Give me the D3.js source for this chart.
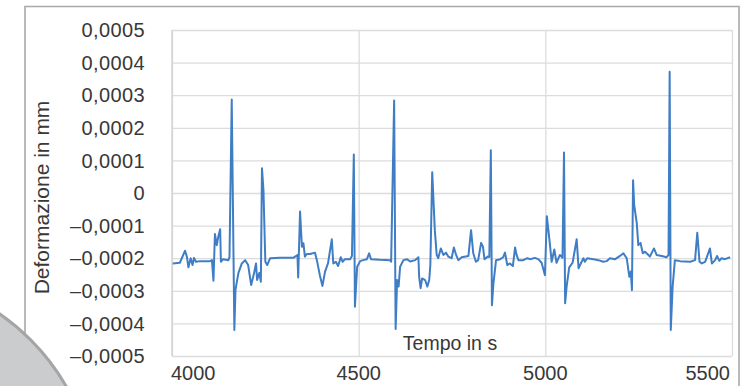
<!DOCTYPE html>
<html><head><meta charset="utf-8">
<script src="https://cdn.jsdelivr.net/npm/d3@7"></script>
<style>
html,body{margin:0;padding:0;background:#fff;}
svg{display:block;}
text{font-family:"Liberation Sans",Arial,sans-serif;fill:#383838;}
</style></head>
<body>
<svg id="c" width="752" height="386"></svg>
<script>
// ---- data ----
const time = [4002,4021,4035,4040,4044,4050,4055,4059,4064,4075,4102,4107,4111,4115,4120,4124,4129,4131,4137,4151,4154,4160,4167,4170,4173,4178,4187,4196,4204,4212,4220,4225,4228,4234,4238,4241,4245,4250,4255,4263,4289,4325,4336,4338,4343,4348,4352,4356,4361,4370,4383,4388,4396,4403,4410,4418,4428,4432,4439,4445,4452,4457,4463,4477,4482,4487,4490,4496,4504,4512,4522,4528,4533,4557,4584,4587,4595,4599,4603,4607,4611,4620,4629,4638,4651,4660,4662,4666,4670,4678,4684,4689,4692,4697,4704,4709,4713,4720,4727,4734,4740,4749,4755,4761,4767,4776,4794,4801,4807,4814,4820,4828,4833,4837,4841,4845,4850,4854,4857,4861,4868,4879,4887,4892,4898,4905,4913,4919,4923,4928,4941,4952,4959,4972,4981,4990,4999,5004,5011,5017,5024,5030,5039,5046,5050,5053,5057,5064,5073,5084,5089,5096,5102,5106,5112,5129,5142,5155,5164,5173,5187,5200,5209,5218,5225,5229,5232,5235,5238,5245,5249,5255,5261,5267,5276,5280,5291,5298,5312,5325,5330,5333,5336,5341,5347,5361,5388,5401,5407,5413,5419,5428,5441,5446,5455,5460,5466,5472,5481,5495];
const deformation = [-0.000216,-0.000214,-0.000177,-0.000196,-0.000228,-0.000200,-0.000221,-0.000199,-0.000211,-0.000209,-0.000209,-0.000206,-0.000269,-0.000126,-0.000160,-0.000134,-0.000111,-0.000211,-0.000203,-0.000206,-0.000196,0.000287,-0.000420,-0.000298,-0.000277,-0.000245,-0.000216,-0.000206,-0.000221,-0.000282,-0.000245,-0.000216,-0.000267,-0.000245,-0.000272,0.000076,0.000009,-0.000211,-0.000221,-0.000200,-0.000199,-0.000199,-0.000190,-0.000259,-0.000057,-0.000165,-0.000154,-0.000195,-0.000187,-0.000187,-0.000183,-0.000206,-0.000252,-0.000285,-0.000241,-0.000215,-0.000142,-0.000216,-0.000211,-0.000224,-0.000197,-0.000211,-0.000203,-0.000203,-0.000193,0.000118,-0.000349,-0.000226,-0.000209,-0.000206,-0.000203,-0.000185,-0.000203,-0.000205,-0.000206,-0.000211,0.000284,-0.000417,-0.000267,-0.000287,-0.000226,-0.000206,-0.000203,-0.000210,-0.000206,-0.000197,-0.000257,-0.000292,-0.000262,-0.000267,-0.000287,-0.000267,-0.000221,0.000064,-0.000114,-0.000190,-0.000200,-0.000170,-0.000190,-0.000183,-0.000195,-0.000200,-0.000167,-0.000190,-0.000206,-0.000197,-0.000193,-0.000114,-0.000185,-0.000211,-0.000206,-0.000153,-0.000165,-0.000203,-0.000200,-0.000195,-0.000196,0.000131,-0.000344,-0.000277,-0.000206,-0.000203,-0.000197,-0.000183,-0.000221,-0.000216,-0.000224,-0.000167,-0.000190,-0.000206,-0.000206,-0.000200,-0.000203,-0.000199,-0.000203,-0.000214,-0.000252,-0.000071,-0.000144,-0.000211,-0.000173,-0.000214,-0.000190,-0.000199,0.000124,-0.000338,-0.000287,-0.000228,-0.000214,-0.000142,-0.000231,-0.000214,-0.000200,-0.000211,-0.000200,-0.000203,-0.000206,-0.000211,-0.000209,-0.000200,-0.000203,-0.000193,-0.000185,-0.000200,-0.000257,-0.000241,-0.000298,0.000039,-0.000037,-0.000093,-0.000160,-0.000153,-0.000185,-0.000180,-0.000190,-0.000195,-0.000170,-0.000190,-0.000193,-0.000197,-0.000190,0.000372,-0.000420,-0.000287,-0.000206,-0.000209,-0.000211,-0.000206,-0.000122,-0.000211,-0.000216,-0.000211,-0.000170,-0.000216,-0.000206,-0.000193,-0.000208,-0.000200,-0.000203,-0.000197];
const xTicks = [4000, 4500, 5000, 5500];
const yTicks = [-0.0005,-0.0004,-0.0003,-0.0002,-0.0001,0,0.0001,0.0002,0.0003,0.0004,0.0005];
const xTitle = "Tempo in s";
const yTitle = "Deformazione in mm";

// ---- drawing ----
const svg = d3.select("#c");
const L = 172, R = 732, T = 30, B = 356;
const x = d3.scaleLinear().domain([4000, 5500]).range([L, R]);
const y = d3.scaleLinear().domain([-0.0005, 0.0005]).range([B, T]);

// outer frame
svg.append("path").attr("d", `M25,386 V6.5 H739 V386`)
  .attr("fill", "none").attr("stroke", "#a9a9a9").attr("stroke-width", 1.6);

// grid
const gy = svg.append("g").attr("transform", `translate(${L},0)`)
  .call(d3.axisLeft(y).tickValues(yTicks).tickSize(-(R - L)).tickFormat(""));
gy.selectAll("line").attr("stroke", "#dcdcdc").attr("stroke-width", 1.3);
gy.select(".domain").remove();
const gx = svg.append("g").attr("transform", `translate(0,${B})`)
  .call(d3.axisBottom(x).tickValues(xTicks).tickSize(-(B - T)).tickFormat(""));
gx.selectAll("line").attr("stroke", "#dcdcdc").attr("stroke-width", 1.3);
gx.select(".domain").remove();
svg.append("line").attr("x1", L).attr("x2", L).attr("y1", T).attr("y2", B)
  .attr("stroke", "#d2d2d2").attr("stroke-width", 1.3);

// tick labels
const fmt = d => d === 0 ? "0" : (d < 0 ? "\u2013" : "") + Math.abs(d).toFixed(4).replace(".", ",");
svg.append("g").selectAll("text").data(yTicks).join("text")
  .attr("x", 145).attr("y", d => y(d)).attr("dy", "0.36em")
  .attr("text-anchor", "end").attr("font-size", 20).attr("letter-spacing", 0.4).text(fmt);
svg.append("g").selectAll("text").data(xTicks).join("text")
  .attr("x", (d, i) => i === 0 ? L - 1 : i === xTicks.length - 1 ? R - 2 : x(d))
  .attr("y", 380)
  .attr("text-anchor", (d, i) => i === 0 ? "start" : i === xTicks.length - 1 ? "end" : "middle")
  .attr("font-size", 20).text(d => d);

// titles
svg.append("text").attr("x", 450).attr("y", 350).attr("text-anchor", "middle")
  .attr("font-size", 19.5).text(xTitle);
svg.append("text").attr("transform", "translate(49,197.5) rotate(-90)")
  .attr("text-anchor", "middle").attr("font-size", 21).text(yTitle);

// series
const pts = time.map((t, i) => [t, deformation[i]]);
svg.append("path").datum(pts)
  .attr("fill", "none").attr("stroke", "#3f7dc5").attr("stroke-width", 2)
  .attr("stroke-linejoin", "round")
  .attr("d", d3.line().x(d => x(d[0])).y(d => y(d[1])));

// decorative grey disc at lower left
svg.append("circle").attr("cx", -128).attr("cy", 498).attr("r", 224)
  .attr("fill", "#cbcccd").attr("stroke", "#a4a5a7").attr("stroke-width", 3);
</script>
</body></html>
